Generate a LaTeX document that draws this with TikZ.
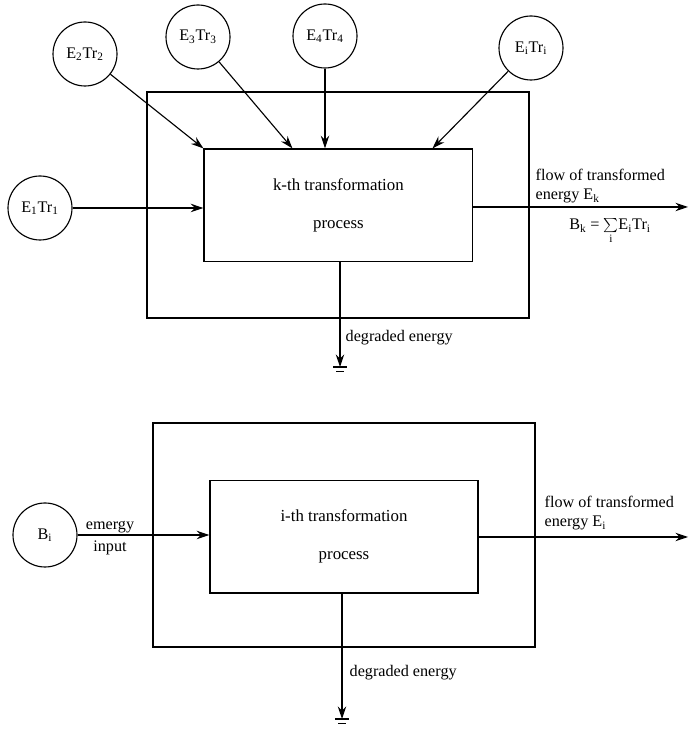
\documentclass[tikz,border=0pt]{standalone}
\usepackage{fontspec}
\setmainfont{Liberation Serif}
\usepackage{tikz}
\usetikzlibrary{arrows.meta,positioning}

\begin{document}
\begin{tikzpicture}[
    font=\fontsize{11.5}{13.5}\selectfont,
    energy/.style={circle, draw, thick, minimum size=1.6cm, inner sep=0pt},
    outerbox/.style={rectangle, draw, thick, minimum width=9.55cm, minimum height=5.65cm},
    process/.style={rectangle, draw, thick, minimum width=6.72cm, minimum height=2.82cm, align=center, font=\fontsize{12}{14}\selectfont},
    flow/.style={thick, -{Stealth[length=9pt, width=6pt, inset=3pt]}},
    lbl/.style={inner sep=1pt, align=left}
]
\useasboundingbox (0,0) rectangle (17.2,18.275);

% Upper diagram: k-th process
\node[outerbox] (outk) at (8.45, 13.15) {};
\node[process] (prock) at (8.46, 13.14) {k-th transformation\\[13pt]process};

% Inputs
\node[energy] (e1) at (1.0, 13.075) {E\textsubscript{1}Tr\textsubscript{1}};
\node[energy] (e2) at (2.125, 16.925) {E\textsubscript{2}Tr\textsubscript{2}};
\node[energy] (e3) at (4.95, 17.35) {E\textsubscript{3}Tr\textsubscript{3}};
\node[energy] (e4) at (8.125, 17.375) {E\textsubscript{4}Tr\textsubscript{4}};
\node[energy] (ei) at (13.275, 17.075) {E\textsubscript{i}Tr\textsubscript{i}};

\coordinate (in3) at ([xshift=2.225cm]prock.north west);
\coordinate (ini) at ([xshift=5.725cm]prock.north west);

\draw[flow] (e1) -- (e1 -| prock.west);
\draw[flow] (e2) -- (prock.north west);
\draw[flow] (e3) -- (in3);
\draw[flow] (e4) -- (e4 |- prock.north);
\draw[flow] (ei) -- (ini);

% Output
\coordinate (endk) at (17.2, 13.1);
\draw[flow] (prock.east |- endk) -- (endk);
\node[lbl, anchor=south west] (flowk) at (13.35, 13.15) {flow of transformed\\energy E\textsubscript{k}};
\node[lbl] (sumk) at (15.25, 12.5) {B\textsubscript{k} = $\sum\limits_{\mathrm{i}}$E\textsubscript{i}Tr\textsubscript{i}};

% Degraded energy
\coordinate (gndk) at (8.5, 9.1);
\draw[flow] (prock.south -| gndk) -- (gndk);
\draw[thick] ([xshift=-0.17cm]gndk) -- ([xshift=0.17cm]gndk);
\draw[thick] ([xshift=-0.1cm, yshift=-0.12cm]gndk) -- ([xshift=0.1cm, yshift=-0.12cm]gndk);
\node[lbl, anchor=west] (degk) at (8.6, 9.825) {degraded energy};

% Lower diagram: i-th process
\node[outerbox, minimum height=5.6cm] (outi) at (8.6, 4.9) {};
\node[process, minimum width=6.7cm] (proci) at (8.6, 4.86) {i-th transformation\\[13pt]process};

\node[energy] (bi) at (1.125, 4.9) {B\textsubscript{i}};
\draw[flow] (bi) -- (bi -| proci.west);
\node[lbl] (emergy) at (2.75, 5.1) {emergy};
\node[lbl] (input) at (2.75, 4.575) {input};

% Output
\coordinate (endi) at (17.2, 4.85);
\draw[flow] (proci.east |- endi) -- (endi);
\node[lbl, anchor=south west] (flowi) at (13.575, 4.98) {flow of transformed\\energy E\textsubscript{i}};

% Degraded energy
\coordinate (gndi) at (8.55, 0.3);
\draw[flow] (proci.south -| gndi) -- (gndi);
\draw[thick] ([xshift=-0.17cm]gndi) -- ([xshift=0.17cm]gndi);
\draw[thick] ([xshift=-0.1cm, yshift=-0.12cm]gndi) -- ([xshift=0.1cm, yshift=-0.12cm]gndi);
\node[lbl, anchor=west] (degi) at (8.7, 1.45) {degraded energy};

\end{tikzpicture}
\end{document}
